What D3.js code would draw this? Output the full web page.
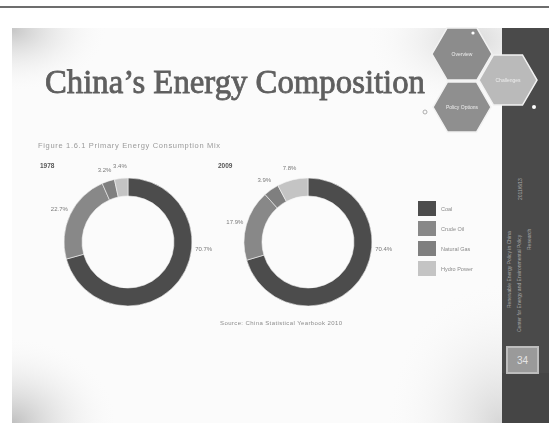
<!DOCTYPE html>
<html>
<head>
<meta charset="utf-8">
<script src="https://cdn.jsdelivr.net/npm/d3@7"></script>
<style>
  html, body { margin: 0; padding: 0; background: #fff; }
  svg { display: block; filter: blur(0.7px); }
</style>
</head>
<body>
<svg id="slide" width="549" height="441"></svg>
<script>
// Energy mix data (share of primary energy consumption, %)
const categories = ["Coal", "Crude Oil", "Natural Gas", "Hydro Power"];
const years = ["1978", "2009"];
const share1978 = [70.7, 22.7, 3.2, 3.4];
const share2009 = [70.4, 17.9, 3.9, 7.8];
const hexLabels = ["Overview", "Challenges", "Policy Options"];

const svg = d3.select("#slide");
const W = 549, H = 441;
const defs = svg.append("defs");

// soft grey shading around the slide corners
function radial(id, stops) {
  const g = defs.append("radialGradient").attr("id", id);
  stops.forEach(([o, c, a]) => g.append("stop").attr("offset", o).attr("stop-color", c).attr("stop-opacity", a));
}
radial("vigTL", [[0, "#bdbdbd", 0.85], [1, "#ffffff", 0]]);
radial("vigBL", [[0, "#b5b5b5", 0.85], [1, "#ffffff", 0]]);
radial("vigR", [[0, "#c8c8c8", 0.7], [1, "#ffffff", 0]]);

// top rule
svg.append("line").attr("x1", 0).attr("x2", W).attr("y1", 7).attr("y2", 7)
  .attr("stroke", "#3c3c3c").attr("stroke-width", 1.6);

// slide body
const slide = svg.append("g");
slide.append("rect").attr("x", 12).attr("y", 28).attr("width", 537).attr("height", 395).attr("fill", "#fbfbfb");
const clip = defs.append("clipPath").attr("id", "slideClip");
clip.append("rect").attr("x", 12).attr("y", 28).attr("width", 537).attr("height", 395);
const shade = slide.append("g").attr("clip-path", "url(#slideClip)");
shade.append("ellipse").attr("cx", 12).attr("cy", 30).attr("rx", 100).attr("ry", 65).attr("fill", "url(#vigTL)");
shade.append("ellipse").attr("cx", 12).attr("cy", 423).attr("rx", 110).attr("ry", 90).attr("fill", "url(#vigBL)");
shade.append("ellipse").attr("cx", 500).attr("cy", 423).attr("rx", 120).attr("ry", 150).attr("fill", "url(#vigR)");
shade.append("ellipse").attr("cx", 470).attr("cy", 40).attr("rx", 110).attr("ry", 70).attr("fill", "url(#vigR)");

// right sidebar
slide.append("rect").attr("x", 502).attr("y", 28).attr("width", 47).attr("height", 395).attr("fill", "#4a4a4a");
slide.append("rect").attr("x", 502).attr("y", 373).attr("width", 47).attr("height", 50).attr("fill", "#454545");
slide.append("rect").attr("x", 507).attr("y", 347).attr("width", 31).attr("height", 26)
  .attr("fill", "#9a9a9a").attr("stroke", "#bdbdbd").attr("stroke-width", 2);
slide.append("text").attr("x", 522.5).attr("y", 364).attr("text-anchor", "middle")
  .attr("font-family", "Liberation Sans, Arial, sans-serif").attr("font-size", 10)
  .attr("fill", "#e4e4e4").text("34");

const sideText = [
  { x: 522, y: 200, s: "2011/6/13" },
  { x: 511, y: 308, s: "Renewable Energy Policy in China" },
  { x: 521, y: 332, s: "Center for Energy and Environmental Policy" },
  { x: 531, y: 250, s: "Research" }
];
sideText.forEach(t => {
  slide.append("text").attr("transform", `translate(${t.x},${t.y}) rotate(-90)`)
    .attr("font-family", "Liberation Sans, Arial, sans-serif").attr("font-size", 5)
    .attr("fill", "#a8a8a8").text(t.s);
});

// hexagon cluster
function hexPath(cx, cy, r) {
  const pts = d3.range(6).map(i => {
    const a = Math.PI / 3 * i;
    return [cx + r * Math.cos(a), cy + r * Math.sin(a)];
  });
  return d3.line()(pts) + "Z";
}
const hexes = [
  { cx: 462, cy: 54, r: 30, fill: "#8c8c8c" },
  { cx: 508, cy: 80, r: 29, fill: "#bababa" },
  { cx: 462, cy: 107, r: 29, fill: "#8f8f8f" }
];
hexes.forEach((h, i) => {
  slide.append("path").attr("d", hexPath(h.cx, h.cy, h.r)).attr("fill", h.fill)
    .attr("stroke", "#f2f2f2").attr("stroke-width", 1.5);
  slide.append("text").attr("x", h.cx).attr("y", h.cy + 2).attr("text-anchor", "middle")
    .attr("font-family", "Liberation Sans, Arial, sans-serif").attr("font-size", 5)
    .attr("fill", "#eeeeee").text(hexLabels[i]);
});
slide.append("circle").attr("cx", 473).attr("cy", 33).attr("r", 1.6).attr("fill", "#ffffff");
slide.append("circle").attr("cx", 534).attr("cy", 107).attr("r", 2).attr("fill", "#ffffff");
slide.append("circle").attr("cx", 425).attr("cy", 112).attr("r", 2).attr("fill", "none")
  .attr("stroke", "#9a9a9a").attr("stroke-width", 0.8);

// title
slide.append("text").attr("x", 45).attr("y", 93)
  .attr("font-family", "Liberation Serif, 'DejaVu Serif', serif").attr("font-size", 33)
  .attr("textLength", 380).attr("lengthAdjust", "spacingAndGlyphs")
  .attr("fill", "#5f5f5f").attr("stroke", "#5f5f5f").attr("stroke-width", 0.8)
  .text("China\u2019s Energy Composition");

// figure caption and source
const sans = "Liberation Sans, Arial, sans-serif";
slide.append("text").attr("x", 38).attr("y", 148).attr("font-family", sans).attr("font-size", 7.5)
  .attr("textLength", 182).attr("fill", "#9a9a9a").text("Figure 1.6.1 Primary Energy Consumption Mix");
slide.append("text").attr("x", 220).attr("y", 325).attr("font-family", sans).attr("font-size", 6)
  .attr("textLength", 122).attr("fill", "#8c8c8c").text("Source: China Statistical Yearbook 2010");

// doughnuts
const color = d3.scaleOrdinal().domain(categories).range(["#4c4c4c", "#888888", "#7f7f7f", "#c4c4c4"]);
const pie = d3.pie().sort(null).value(d => d.v);
const outerR = 64, innerR = 46, labelR = 76;
const arc = d3.arc().innerRadius(innerR).outerRadius(outerR);

// the dominant slice keeps its label beside the ring's right edge
const labelAngle = d => (d.endAngle - d.startAngle > Math.PI) ? Math.PI * 0.53 : (d.startAngle + d.endAngle) / 2;

const charts = [
  { year: years[0], values: share1978, cx: 128, cy: 242, yx: 40 },
  { year: years[1], values: share2009, cx: 308, cy: 242, yx: 218 }
];
charts.forEach(c => {
  const g = slide.append("g").attr("transform", `translate(${c.cx},${c.cy})`);
  const data = pie(categories.map((k, i) => ({ k, v: c.values[i] })));
  g.selectAll("path").data(data).join("path")
    .attr("d", arc).attr("fill", d => color(d.data.k))
    .attr("stroke", "#f4f4f4").attr("stroke-width", 0.6);
  g.selectAll("text").data(data).join("text")
    .attr("x", d => labelR * Math.sin(labelAngle(d)))
    .attr("y", d => -labelR * Math.cos(labelAngle(d)) + 2)
    .attr("text-anchor", "middle").attr("font-family", sans).attr("font-size", 6)
    .attr("fill", "#7a7a7a").text(d => d.data.v + "%");
  slide.append("text").attr("x", c.yx).attr("y", 168).attr("font-family", sans)
    .attr("font-size", 6.5).attr("font-weight", "bold").attr("fill", "#555555").text(c.year);
});

// legend
const legend = slide.append("g").attr("transform", "translate(418,201)");
categories.forEach((k, i) => {
  const row = legend.append("g").attr("transform", `translate(0,${i * 20})`);
  row.append("rect").attr("width", 18).attr("height", 15).attr("fill", color(k));
  row.append("text").attr("x", 23).attr("y", 10).attr("font-family", sans).attr("font-size", 5.5)
    .attr("fill", "#8a8a8a").text(k);
});
</script>
</body>
</html>
